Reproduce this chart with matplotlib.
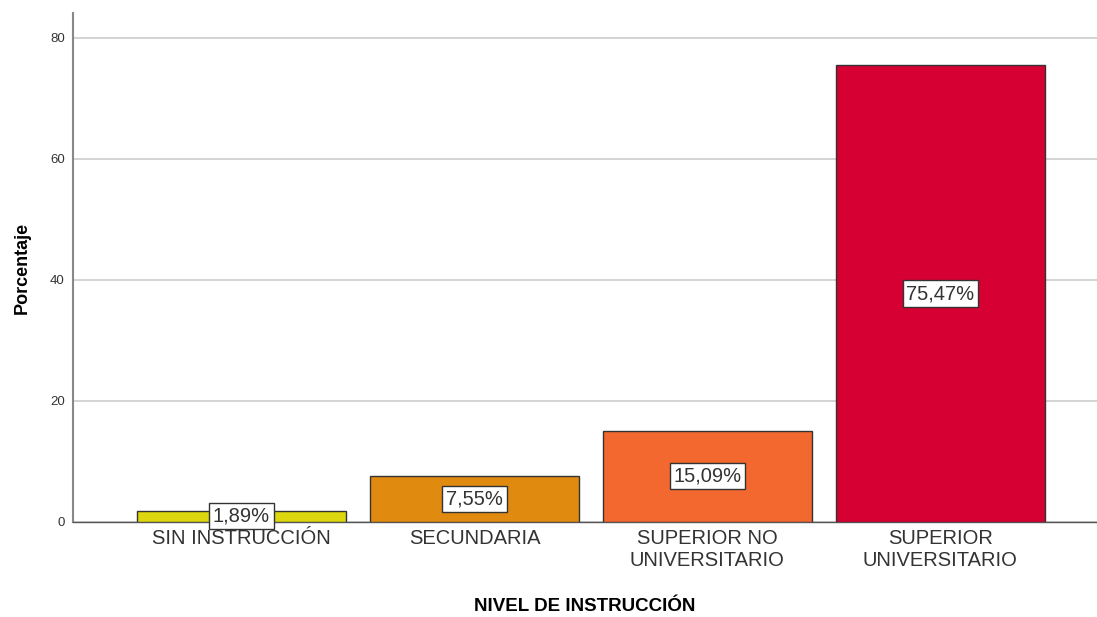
import numpy as np
import matplotlib
matplotlib.use('Agg')
import matplotlib.pyplot as plt

plt.rcParams['font.family'] = ['Liberation Sans', 'DejaVu Sans']

# Data
categorias = ['SIN INSTRUCCIÓN', 'SECUNDARIA', 'SUPERIOR NO\nUNIVERSITARIO', 'SUPERIOR\nUNIVERSITARIO']
porcentajes = [1.89, 7.55, 15.09, 75.47]
etiquetas = ['1,89%', '7,55%', '15,09%', '75,47%']
colores = ['#DCD70E', '#E08A10', '#F2682E', '#D60032']
yticks = [0, 20, 40, 60, 80]

fig = plt.figure(figsize=(10.97, 6.17), dpi=100)
ax = fig.add_axes([73 / 1097, (617 - 522) / 617, 1 - 73 / 1097, (522 - 13) / 617])

x = np.arange(len(categorias))
bars = ax.bar(x, porcentajes, width=0.897, color=colores, edgecolor='#333333', linewidth=1, zorder=3)

# value labels in the middle of each bar
for xi, val, lab in zip(x, porcentajes, etiquetas):
    ax.text(xi, val / 2, lab, ha='center', va='center', fontsize=14.5, color='#333333', zorder=5,
            bbox=dict(boxstyle='square,pad=0.18', facecolor='white', edgecolor='#333333', linewidth=1))

ax.set_xlim(-0.723, 3.672)
ax.set_ylim(0, 84.1)
ax.set_yticks(yticks)
ax.set_yticklabels([str(t) for t in yticks], fontsize=9.5, color='#333333')
ax.set_xticks(x)
ax.set_xticklabels(categorias, fontsize=14.5, color='#333333', linespacing=1.2)
ax.tick_params(axis='both', length=0, pad=6)
ax.tick_params(axis='x', pad=5)

ax.grid(axis='y', color='#d0d0d0', linewidth=1.3, zorder=0)
ax.spines['top'].set_visible(False)
ax.spines['right'].set_visible(False)
ax.spines['left'].set_color('#888888')
ax.spines['left'].set_linewidth(1.5)
ax.spines['bottom'].set_color('#555555')
ax.spines['bottom'].set_linewidth(1)

ax.set_ylabel('Porcentaje', fontsize=13, fontweight='bold', labelpad=14)
ax.set_xlabel('NIVEL DE INSTRUCCIÓN', fontsize=13.5, fontweight='bold', labelpad=20)

fig.savefig('out.png', dpi=100)
